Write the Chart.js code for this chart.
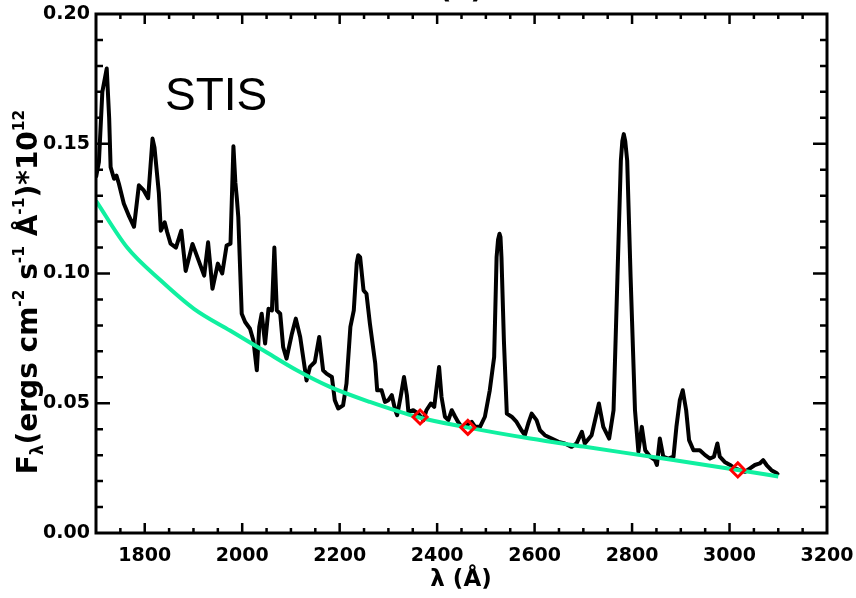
<!DOCTYPE html>
<html lang="en">
<head>
  <meta charset="UTF-8" />
  <title>STIS spectrum</title>
  <script src="https://cdn.jsdelivr.net/npm/chart.js"></script>
  <style>
    html, body { margin: 0; padding: 0; background: #fff; }
    #spec { display: block; }
  </style>
</head>
<body>
  <canvas id="spec" width="856" height="598"></canvas>

  <script>
    // observed spectrum (wavelength in A, flux in 1e-12 ergs/cm2/s/A)
    const wave = [
      1700, 1706, 1713, 1722, 1727, 1730, 1737, 1742, 1747, 1757, 1768, 1778, 1788, 1798, 1807,
      1816, 1820, 1829, 1833, 1841, 1846, 1853, 1864, 1875, 1884, 1898, 1908, 1922, 1930, 1939,
      1950, 1959, 1968, 1976, 1982, 1986, 1989, 1992, 1999, 2006, 2016, 2023, 2030, 2035, 2040,
      2047, 2054, 2061, 2066, 2071, 2078, 2084, 2091, 2102, 2110, 2119, 2127, 2132, 2139, 2149,
      2158, 2166, 2173, 2184, 2190, 2197, 2207, 2214, 2222, 2229, 2235, 2238, 2242, 2249, 2255,
      2262, 2273, 2277, 2286, 2293, 2300, 2307, 2314, 2318, 2325, 2332, 2338, 2341, 2351, 2361,
      2372, 2378, 2387, 2394, 2404, 2409, 2416, 2423, 2430, 2437, 2443, 2450, 2459, 2471, 2478,
      2488, 2498, 2508, 2517, 2522, 2525, 2528, 2530, 2532, 2537, 2543, 2553, 2563, 2573, 2580,
      2587, 2594, 2604, 2611, 2621, 2635, 2649, 2662, 2676, 2686, 2697, 2703, 2717, 2732, 2741,
      2753, 2762, 2770, 2777, 2780, 2783, 2786, 2790, 2797, 2806, 2813, 2820, 2827, 2837, 2847,
      2851, 2857, 2864, 2874, 2885, 2891, 2898, 2904, 2911, 2917, 2926, 2939, 2950, 2960, 2968,
      2975, 2980, 2990, 3001, 3011, 3021, 3032, 3042, 3052, 3062, 3069, 3076, 3086, 3097, 3100
    ];
    const flux = [
      0.137, 0.143, 0.170, 0.179, 0.160, 0.141, 0.1365, 0.1377, 0.1346, 0.127, 0.122, 0.118, 0.134, 0.132, 0.129,
      0.152, 0.1486, 0.131, 0.1165, 0.1197, 0.116, 0.1115, 0.110, 0.1165, 0.101, 0.1114, 0.1063, 0.0992, 0.112, 0.0941,
      0.1038, 0.100, 0.1108, 0.1115, 0.149, 0.135, 0.129, 0.1217, 0.0845, 0.0813, 0.0787, 0.0742, 0.0627, 0.0794, 0.0845,
      0.073, 0.0864, 0.0858, 0.110, 0.0858, 0.0845, 0.0717, 0.0672, 0.0768, 0.0826, 0.0755, 0.0653, 0.0588, 0.064, 0.0659,
      0.0755, 0.0627, 0.0614, 0.0601, 0.0512, 0.048, 0.0492, 0.0576, 0.0794, 0.0858, 0.104, 0.107, 0.1063, 0.0935, 0.0922,
      0.0807, 0.0653, 0.055, 0.055, 0.0505, 0.0512, 0.0531, 0.0473, 0.0454, 0.0524, 0.0601, 0.0531, 0.0467, 0.0473, 0.046,
      0.0435, 0.0473, 0.0499, 0.0486, 0.064, 0.0524, 0.0448, 0.0435, 0.0473, 0.0448, 0.0428, 0.0409, 0.0415, 0.0428, 0.0409,
      0.0409, 0.0448, 0.055, 0.0678, 0.1063, 0.113, 0.1153, 0.114, 0.1063, 0.0742, 0.046, 0.0448, 0.0428, 0.0396, 0.0377,
      0.0422, 0.046, 0.0435, 0.0396, 0.0377, 0.0364, 0.0351, 0.0345, 0.0332, 0.0345, 0.039, 0.0345, 0.0377, 0.0499, 0.0409,
      0.0364, 0.0473, 0.0986, 0.1435, 0.151, 0.1537, 0.151, 0.1435, 0.0986, 0.0473, 0.0313, 0.0409, 0.0319, 0.0294, 0.0281,
      0.0262, 0.0364, 0.0294, 0.0287, 0.0294, 0.0409, 0.0512, 0.055, 0.0473, 0.0358, 0.0319, 0.0319, 0.030, 0.0287, 0.0294,
      0.0345, 0.0294, 0.0274, 0.0262, 0.0249, 0.0242, 0.0236, 0.0249, 0.0262, 0.0268, 0.0281, 0.0262, 0.0242, 0.023, 0.0223
    ];

    // continuum fit
    const contWave = [1700, 1764, 1833, 1901, 1975, 2043, 2112, 2180, 2262, 2361, 2461, 2591, 2700, 2878, 3017, 3100];
    const contFlux = [0.128, 0.110, 0.0973, 0.0864, 0.0780, 0.0704, 0.0627, 0.0563, 0.0505, 0.0446, 0.0407, 0.0364, 0.0333, 0.0283, 0.0243, 0.0218];

    // continuum windows
    const markWave = [2365, 2463, 3017];
    const markFlux = [0.0447, 0.0407, 0.0243];

    const xTickValues = [1800, 2000, 2200, 2400, 2600, 2800, 3000, 3200];
    const yTickValues = [0.00, 0.05, 0.10, 0.15, 0.20];

    const toPts = (xs, ys) => xs.map((x, i) => ({ x: x, y: ys[i] }));

    const boldFont = '"DejaVu Sans", sans-serif';

    // IDL style frame: box on all sides, ticks pointing inwards
    const frame = {
      id: 'frame',
      afterDatasetsDraw(chart) {
        const c = chart.ctx;
        const a = chart.chartArea;
        const xs = chart.scales.x, ys = chart.scales.y;
        c.save();
        c.strokeStyle = '#000';
        c.lineWidth = 2.5;
        c.beginPath();
        for (let v = 1750; v < 3200; v += 50) {
          const px = xs.getPixelForValue(v);
          const len = (v % 200 === 0) ? 10 : 5;
          c.moveTo(px, a.bottom); c.lineTo(px, a.bottom - len);
          c.moveTo(px, a.top); c.lineTo(px, a.top + len);
        }
        for (let k = 1; k < 20; k++) {
          const py = ys.getPixelForValue(k / 100);
          const len = (k % 5 === 0) ? 14 : 7;
          c.moveTo(a.left, py); c.lineTo(a.left + len, py);
          c.moveTo(a.right, py); c.lineTo(a.right - len, py);
        }
        c.stroke();
        c.lineWidth = 3;
        c.strokeRect(a.left, a.top, a.right - a.left, a.bottom - a.top);
        c.restore();
      },
      afterDraw(chart) {
        const c = chart.ctx;
        c.save();
        c.fillStyle = '#000';

        // instrument label
        c.font = '46px "Liberation Sans", Arial, sans-serif';
        c.textAlign = 'left';
        c.textBaseline = 'alphabetic';
        c.fillText('STIS', 165, 110);

        // panel title, mostly above the page edge
        c.font = 'bold 28px ' + boldFont;
        c.textAlign = 'center';
        c.fillText('(a)', 461, -2);

        // x title
        c.font = 'bold 23px ' + boldFont;
        c.textBaseline = 'middle';
        c.fillText('λ (Å)', 461, 580);

        // y title with sub/superscripts
        const size = 28;
        const segs = [
          ['F', 1, 0], ['λ', 0.6, 0.2], ['(ergs cm', 1, 0], ['-2', 0.55, -0.45],
          [' s', 1, 0], ['-1', 0.55, -0.45], [' Å', 1, 0], ['-1', 0.55, -0.45],
          [')*10', 1, 0], ['12', 0.55, -0.45]
        ];
        let total = 0;
        segs.forEach(s => { c.font = 'bold ' + (size * s[1]) + 'px ' + boldFont; total += c.measureText(s[0]).width; });
        c.translate(37, 292);
        c.rotate(-Math.PI / 2);
        c.textAlign = 'left';
        c.textBaseline = 'alphabetic';
        let x = -total / 2;
        segs.forEach(s => {
          c.font = 'bold ' + (size * s[1]) + 'px ' + boldFont;
          c.fillText(s[0], x, s[2] * size);
          x += c.measureText(s[0]).width;
        });
        c.restore();
      }
    };

    const ctx = document.getElementById('spec').getContext('2d');

    const chart = new Chart(ctx, {
      type: 'line',
      data: {
        datasets: [
          {
            label: 'windows',
            data: toPts(markWave, markFlux),
            showLine: false,
            pointStyle: 'rectRot',
            pointRadius: 7,
            borderColor: '#ff0000',
            backgroundColor: 'rgba(0,0,0,0)',
            pointBorderWidth: 3
          },
          {
            label: 'continuum',
            data: toPts(contWave, contFlux),
            borderColor: '#10f0a0',
            borderWidth: 4,
            pointRadius: 0,
            cubicInterpolationMode: 'monotone',
            fill: false
          },
          {
            label: 'spectrum',
            data: toPts(wave, flux),
            borderColor: '#000000',
            borderWidth: 4,
            borderJoinStyle: 'round',
            pointRadius: 0,
            tension: 0,
            fill: false
          }
        ]
      },
      options: {
        responsive: false,
        animation: false,
        devicePixelRatio: 1,
        layout: { padding: { top: 14, right: 29, left: 0, bottom: 0 } },
        plugins: {
          legend: { display: false },
          tooltip: { enabled: false },
          title: { display: false }
        },
        scales: {
          x: {
            type: 'linear',
            min: 1700,
            max: 3200,
            afterBuildTicks: s => { s.ticks = xTickValues.map(v => ({ value: v })); },
            afterFit: s => { s.height = 65; s.paddingLeft = 0; s.paddingRight = 0; },
            grid: { display: false, drawTicks: false },
            border: { display: false },
            ticks: {
              color: '#000',
              padding: 12,
              maxRotation: 0,
              autoSkip: false,
              font: { family: boldFont, weight: 'bold', size: 19 },
              callback: v => String(v)
            }
          },
          y: {
            type: 'linear',
            min: 0,
            max: 0.2,
            afterBuildTicks: s => { s.ticks = yTickValues.map(v => ({ value: v })); },
            afterFit: s => { s.width = 96; s.paddingTop = 0; s.paddingBottom = 0; },
            grid: { display: false, drawTicks: false },
            border: { display: false },
            ticks: {
              color: '#000',
              padding: 6,
              autoSkip: false,
              font: { family: boldFont, weight: 'bold', size: 19 },
              callback: v => Number(v).toFixed(2)
            }
          }
        }
      },
      plugins: [frame]
    });
  </script>
</body>
</html>
